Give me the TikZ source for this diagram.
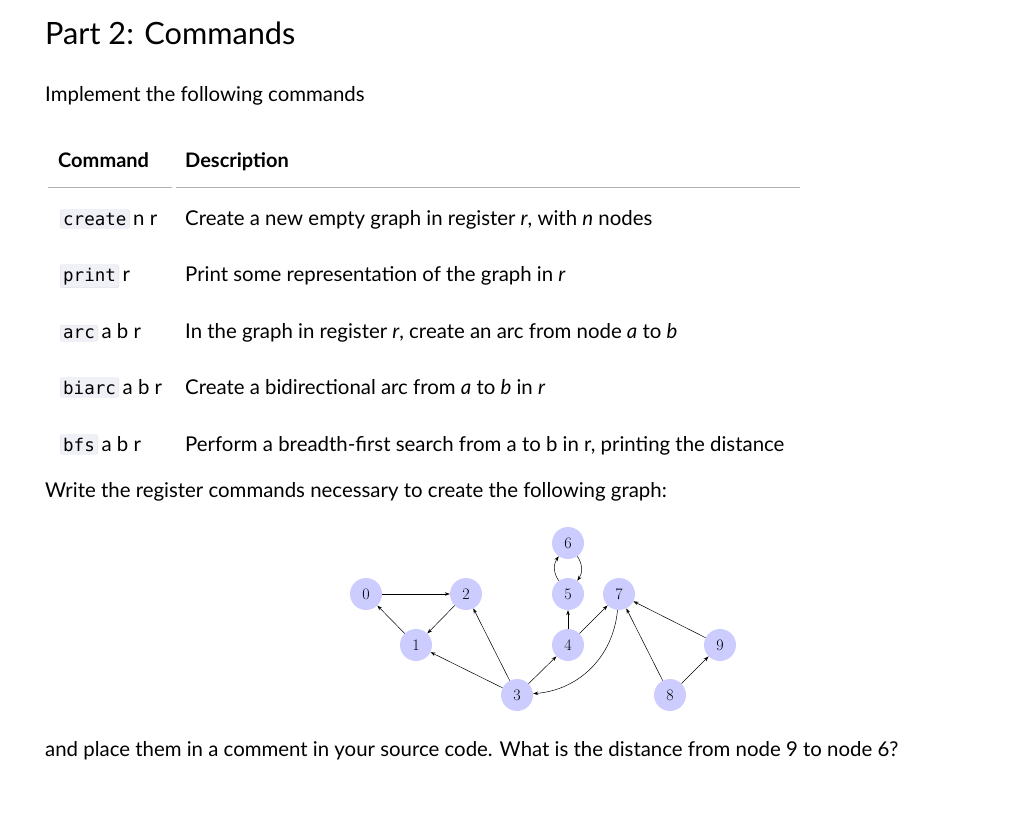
\documentclass[tikz,border=0pt]{standalone}
\usepackage{fontspec}
\setmainfont{Lato}
\setmonofont{DejaVu Sans Mono}
\newfontfamily\lmfont{Latin Modern Roman}
\usetikzlibrary{arrows.meta}
\definecolor{nodeblue}{rgb}{0.8,0.8,1}
\definecolor{codebg}{rgb}{0.94,0.94,0.97}
\definecolor{codebd}{rgb}{0.88,0.88,0.92}
\tikzset{
  txt/.style={anchor=base west, inner sep=0pt, font=\fontsize{20.4}{24}\selectfont},
  code/.style={anchor=base west, inner sep=3pt, fill=codebg, draw=codebd, rounded corners=2pt, font=\fontsize{17.5}{22}\ttfamily},
  gn/.style={circle, fill=nodeblue, minimum size=32pt, inner sep=0pt, font=\lmfont\fontsize{16}{18}\selectfont},
  arr/.style={-{Stealth[length=5pt,width=3.5pt]}, line width=0.5pt},
}
\begin{document}
\begin{tikzpicture}[x=1pt,y=-1pt]
\useasboundingbox (0,0) rectangle (1024,822);
\node[txt, font=\fontsize{30.7}{36}\selectfont] (title) at (45,44) {Part 2: Commands};
\node[txt] (intro) at (45,101) {Implement the following commands};
\node[txt, font=\fontsize{20}{24}\bfseries] (h1) at (58,167) {Command};
\node[txt, font=\fontsize{20}{24}\bfseries] (h2) at (185,167) {Description};
\draw[gray!60, line width=1pt] (48,187) -- (172,187) (176,187) -- (800,187);
% rows
\node[code] (c1) at (60,225) {create};
\node[txt] (a1) at (c1.base east) {\,n r};
\node[txt] (d1) at (185,225) {Create a new empty graph in register \textit{r}, with \textit{n} nodes};
\node[code] (c2) at (60,281) {print};
\node[txt] (a2) at (c2.base east) {\,r};
\node[txt] (d2) at (185,281) {Print some representation of the graph in \textit{r}};
\node[code] (c3) at (60,338) {arc};
\node[txt] (a3) at (c3.base east) {\,a b r};
\node[txt] (d3) at (185,338) {In the graph in register \textit{r}, create an arc from node \textit{a} to \textit{b}};
\node[code] (c4) at (60,394) {biarc};
\node[txt] (a4) at (c4.base east) {\,a b r};
\node[txt] (d4) at (185,394) {Create a bidirectional arc from \textit{a} to \textit{b} in \textit{r}};
\node[code] (c5) at (60,451) {bfs};
\node[txt] (a5) at (c5.base east) {\,a b r};
\node[txt] (d5) at (185,451) {Perform a breadth-first search from a to b in r, printing the distance};
\node[txt] (w) at (45,497) {Write the register commands necessary to create the following graph:};
\node[txt] (p) at (45,756) {and place them in a comment in your source code. What is the distance from node 9 to node 6?};
% graph
\node[gn] (n0) at (366,594) {0};
\node[gn] (n1) at (416,645) {1};
\node[gn] (n2) at (466,594) {2};
\node[gn] (n3) at (517,695) {3};
\node[gn] (n4) at (568,645) {4};
\node[gn] (n5) at (568,594) {5};
\node[gn] (n6) at (568,543) {6};
\node[gn] (n7) at (619,594) {7};
\node[gn] (n8) at (670,695) {8};
\node[gn] (n9) at (720,645) {9};
\draw[arr] (n0) -- (n2);
\draw[arr] (n2) -- (n1);
\draw[arr] (n1) -- (n0);
\draw[arr] (n3) -- (n2);
\draw[arr] (n3) -- (n1);
\draw[arr] (n3) -- (n4);
\draw[arr] (n4) -- (n5);
\draw[arr] (n4) -- (n7);
\draw[arr] (n7) to[bend left=40] (n3);
\draw[arr] (n8) -- (n7);
\draw[arr] (n8) -- (n9);
\draw[arr] (n9) -- (n7);
\draw[arr] (n5) to[bend left=35] (n6);
\draw[arr] (n6) to[bend left=35] (n5);
\end{tikzpicture}
\end{document}
